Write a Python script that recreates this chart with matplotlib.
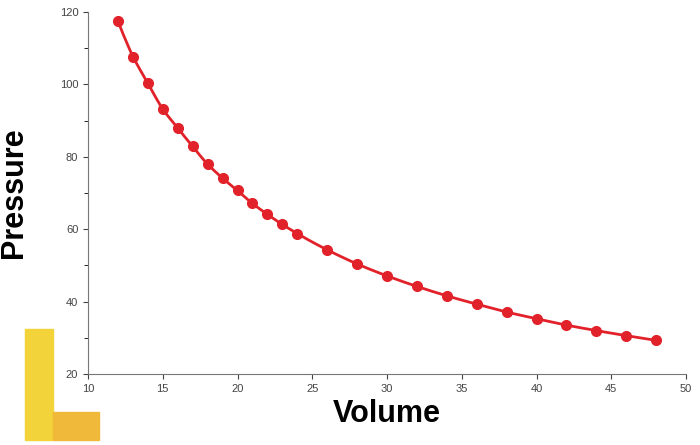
import matplotlib
matplotlib.use("Agg")
import matplotlib.pyplot as plt
import numpy as np
from matplotlib.patches import Rectangle

plt.rcParams["font.family"] = ["Liberation Sans", "DejaVu Sans"]

volume = [12, 13, 14, 15, 16, 17, 18, 19, 20, 21, 22, 23, 24,
          26, 28, 30, 32, 34, 36, 38, 40, 42, 44, 46, 48]
pressure = [117.5, 107.7, 100.4, 93.1, 88.0, 82.9, 77.9, 74.1, 70.7, 67.1, 64.1, 61.3, 58.8,
            54.3, 50.4, 47.1, 44.2, 41.6, 39.3, 37.1, 35.3, 33.5, 32.0, 30.6, 29.3]

fig = plt.figure(figsize=(7, 4.45), dpi=100)
ax = fig.add_axes([88 / 700, 71 / 445, 598 / 700, 362 / 445])

# smooth curve through the points (log-log interpolation)
xs = np.linspace(volume[0], volume[-1], 300)
ys = np.exp(np.interp(np.log(xs), np.log(volume), np.log(pressure)))
ax.plot(xs, ys, color="#e2222a", lw=2)
ax.plot(volume, pressure, "o", color="#e2222a", ms=7)

ax.set_xlim(10, 50)
ax.set_ylim(20, 120)
ax.set_xticks(range(10, 51, 5))
ax.set_yticks(range(20, 121, 20))
ax.set_yticks(range(30, 120, 20), minor=True)
ax.tick_params(labelsize=8, colors="#444444")
ax.tick_params(which="minor", length=3)
for s in ("top", "right"):
    ax.spines[s].set_visible(False)
for s in ("left", "bottom"):
    ax.spines[s].set_color("#777777")

ax.set_xlabel("Volume", fontsize=22, fontweight="bold", labelpad=4)
ax.set_ylabel("Pressure", fontsize=22, fontweight="bold", labelpad=22)

# logo blocks in bottom-left corner
fig.patches.append(Rectangle((25 / 700, 5 / 445), 28 / 700, 111 / 445,
                             transform=fig.transFigure, color="#f3d33a", zorder=0))
fig.patches.append(Rectangle((53 / 700, 5 / 445), 46 / 700, 28 / 445,
                             transform=fig.transFigure, color="#f0b93a", zorder=0))

fig.savefig("out.png", dpi=100)
